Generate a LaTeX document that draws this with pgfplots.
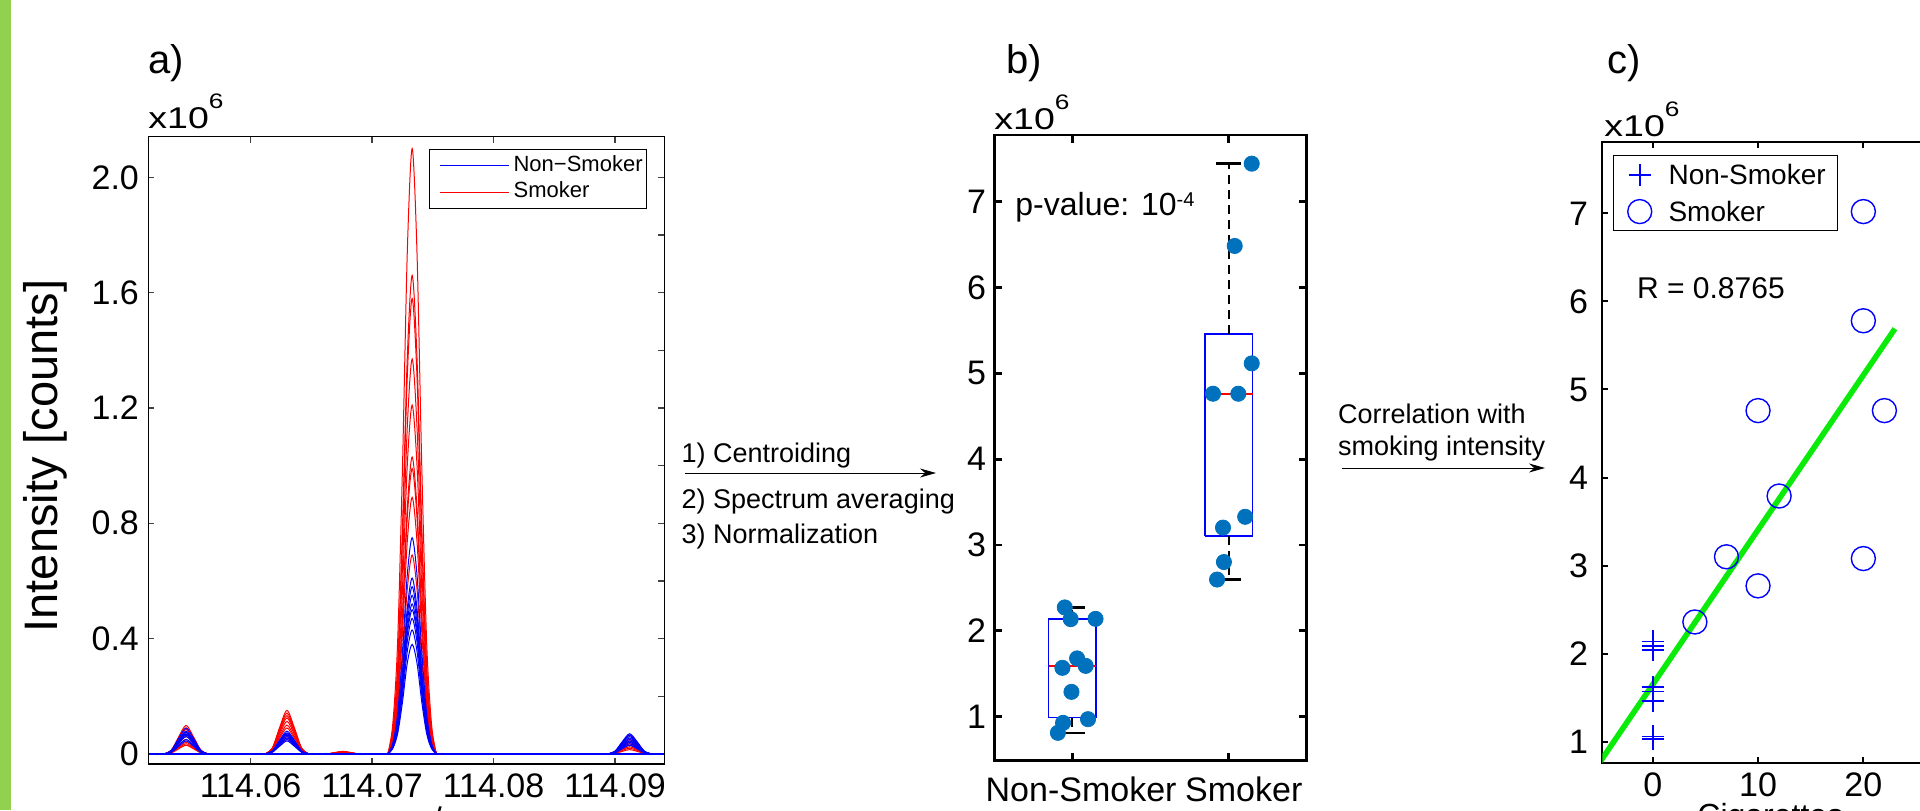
\documentclass[border=0pt]{standalone}
\usepackage{fontspec}
\setmainfont{Liberation Sans}
\usepackage{graphicx}
\usepackage{pgfplots}
\usepackage{pgfplotstable}
\pgfplotsset{compat=1.18}
\usetikzlibrary{arrows.meta}

\definecolor{stripgreen}{RGB}{146,208,80}
\definecolor{dotblue}{RGB}{0,114,189}
\definecolor{fitgreen}{RGB}{10,235,10}
\newcommand{\fsz}[2]{\fontsize{#1}{#2}\selectfont}
\newcommand{\xsix}{\scalebox{1.25}[1]{\fsz{15}{18}x10\raisebox{10pt}{\fsz{10.5}{12}6}}}

% panel a spectra: x = m/z - 114, intensity in 10^6 counts
% r1..r9 smokers, b1..b9 non-smokers
\pgfplotstableread{
x      r1    r2    r3    r4    r5    r6    r7    r8    r9    b1    b2    b3    b4    b5    b6    b7    b8    b9
0.0529 0     0     0     0     0     0     0     0     0     0     0     0     0     0     0     0     0     0
0.0535 0.014 0.004 0.012 0.006 0.011 0.008 0.007 0.013 0.005 0.013 0.011 0.010 0.009 0.008 0.007 0.006 0.011 0.010
0.0541 0.060 0.018 0.052 0.024 0.046 0.037 0.031 0.055 0.021 0.055 0.048 0.043 0.040 0.037 0.031 0.027 0.046 0.041
0.0547 0.099 0.030 0.085 0.040 0.075 0.060 0.050 0.090 0.035 0.090 0.079 0.070 0.065 0.060 0.050 0.045 0.075 0.068
0.0553 0.060 0.018 0.052 0.024 0.046 0.037 0.031 0.055 0.021 0.055 0.048 0.043 0.040 0.037 0.031 0.027 0.046 0.041
0.0559 0.014 0.004 0.012 0.006 0.011 0.008 0.007 0.013 0.005 0.013 0.011 0.010 0.009 0.008 0.007 0.006 0.011 0.010
0.0565 0     0     0     0     0     0     0     0     0     0     0     0     0     0     0     0     0     0
}\peakA

\pgfplotstableread{
x      r1    r2    r3    r4    r5    r6    r7    r8    r9    b1    b2    b3    b4    b5    b6    b7    b8    b9
0.0612 0     0     0     0     0     0     0     0     0     0     0     0     0     0     0     0     0     0
0.0618 0.021 0.020 0.019 0.018 0.016 0.014 0.008 0.007 0.013 0.011 0.010 0.009 0.008 0.008 0.007 0.010 0.009 0.006
0.0624 0.092 0.087 0.081 0.076 0.069 0.061 0.037 0.031 0.055 0.048 0.045 0.041 0.037 0.034 0.031 0.043 0.040 0.027
0.0630 0.151 0.142 0.133 0.125 0.113 0.100 0.060 0.050 0.090 0.079 0.073 0.067 0.060 0.055 0.050 0.070 0.065 0.045
0.0636 0.092 0.087 0.081 0.076 0.069 0.061 0.037 0.031 0.055 0.048 0.045 0.041 0.037 0.034 0.031 0.043 0.040 0.027
0.0642 0.021 0.020 0.019 0.018 0.016 0.014 0.008 0.007 0.013 0.011 0.010 0.009 0.008 0.008 0.007 0.010 0.009 0.006
0.0648 0     0     0     0     0     0     0     0     0     0     0     0     0     0     0     0     0     0
}\peakB

\pgfplotstableread{
x      r1    r2    r3    r4    r5    r6    r7    r8    r9
0.0664 0     0     0     0     0     0     0     0     0
0.0670 0.005 0.004 0.004 0.003 0.002 0.004 0.002 0.005 0.003
0.0676 0.009 0.007 0.006 0.005 0.004 0.006 0.003 0.008 0.005
0.0682 0.005 0.004 0.004 0.003 0.002 0.004 0.002 0.005 0.003
0.0688 0     0     0     0     0     0     0     0     0
}\peakC

\pgfplotstableread{
x      r1    r2    r3    r4    r5    r6    r7    r8    r9    b1    b2    b3    b4    b5    b6    b7    b8    b9
0.0713 0     0     0     0     0     0     0     0     0     0     0     0     0     0     0     0     0     0
0.0717 0.101 0.080 0.076 0.066 0.058 0.049 0.048 0.043 0.033 0.036 0.029 0.028 0.026 0.025 0.024 0.023 0.021 0.018
0.0721 0.382 0.302 0.288 0.249 0.220 0.187 0.180 0.162 0.126 0.137 0.111 0.106 0.100 0.095 0.091 0.086 0.078 0.069
0.0725 0.985 0.779 0.741 0.643 0.567 0.483 0.464 0.417 0.324 0.352 0.286 0.272 0.258 0.244 0.235 0.220 0.202 0.178
0.0729 1.739 1.374 1.308 1.134 1.002 0.853 0.820 0.737 0.571 0.621 0.505 0.480 0.455 0.431 0.414 0.389 0.356 0.315
0.0733 2.100 1.660 1.580 1.370 1.210 1.030 0.990 0.890 0.690 0.750 0.610 0.580 0.550 0.520 0.500 0.470 0.430 0.380
0.0737 1.739 1.374 1.308 1.134 1.002 0.853 0.820 0.737 0.571 0.621 0.505 0.480 0.455 0.431 0.414 0.389 0.356 0.315
0.0741 0.985 0.779 0.741 0.643 0.567 0.483 0.464 0.417 0.324 0.352 0.286 0.272 0.258 0.244 0.235 0.220 0.202 0.178
0.0745 0.382 0.302 0.288 0.249 0.220 0.187 0.180 0.162 0.126 0.137 0.111 0.106 0.100 0.095 0.091 0.086 0.078 0.069
0.0749 0.101 0.080 0.076 0.066 0.058 0.049 0.048 0.043 0.033 0.036 0.029 0.028 0.026 0.025 0.024 0.023 0.021 0.018
0.0753 0     0     0     0     0     0     0     0     0     0     0     0     0     0     0     0     0     0
}\peakD

\pgfplotstableread{
x      r1    r2    r3    r4    r5    r6    r7    r8    r9    b1    b2    b3    b4    b5    b6    b7    b8    b9
0.0894 0     0     0     0     0     0     0     0     0     0     0     0     0     0     0     0     0     0
0.0900 0.009 0.007 0.006 0.004 0.004 0.003 0.002 0.006 0.005 0.010 0.009 0.008 0.008 0.007 0.006 0.006 0.005 0.004
0.0906 0.040 0.031 0.024 0.018 0.015 0.012 0.009 0.027 0.021 0.043 0.040 0.037 0.034 0.031 0.027 0.024 0.021 0.018
0.0912 0.065 0.050 0.040 0.030 0.025 0.020 0.015 0.045 0.035 0.070 0.065 0.060 0.055 0.050 0.045 0.040 0.035 0.030
0.0918 0.040 0.031 0.024 0.018 0.015 0.012 0.009 0.027 0.021 0.043 0.040 0.037 0.034 0.031 0.027 0.024 0.021 0.018
0.0924 0.009 0.007 0.006 0.004 0.004 0.003 0.002 0.006 0.005 0.010 0.009 0.008 0.008 0.007 0.006 0.006 0.005 0.004
0.0930 0     0     0     0     0     0     0     0     0     0     0     0     0     0     0     0     0     0
}\peakE

\begin{document}
\begin{tikzpicture}
\useasboundingbox (0pt,0pt) rectangle (960pt,405pt);
\clip (0pt,0pt) rectangle (960pt,405pt);
\fill[stripgreen] (0pt,0pt) rectangle (5.5pt,405pt);

% ---------------- a) spectra
\begin{axis}[
  at={(74.15pt,23pt)}, anchor=south west, scale only axis,
  width=258pt, height=313.65pt,
  xmin=0.05159, xmax=0.09405, ymin=-0.035, ymax=2.141,
  xtick={0.06,0.07,0.08,0.09}, xticklabels={114.06,114.07,114.08,114.09},
  ytick={0,0.4,0.8,1.2,1.6,2.0}, yticklabels={0,0.4,0.8,1.2,1.6,2.0},
  xtick pos=both, ytick pos=left, tick align=inside, major tick length=3pt,
  axis line style={line width=0.6pt},
  tick style={black!75, line width=0.6pt},
  tick label style={font=\fsz{17}{20}, inner sep=0pt},
  xticklabel style={yshift=-4.5pt}, yticklabel style={xshift=-4.5pt},
  legend image code/.code={\path (0pt,0pt); \draw[#1] (5.15pt,0pt) -- (39.45pt,0pt);},
  legend cell align=left,
  legend style={at={(axis description cs:0.5438,0.9809)}, anchor=north west,
    draw=black, line width=0.6pt, fill=white, inner xsep=0pt, inner ysep=1.4pt,
    font=\fsz{11}{13},
    nodes={inner sep=2pt, text height=7.5pt, text depth=1.85pt}},
]
\pgfplotsinvokeforeach{1,...,9}{
  \addplot[red, line width=0.5pt, smooth, forget plot] table[x=x, y=r#1] {\peakA};
  \addplot[red, line width=0.5pt, smooth, forget plot] table[x=x, y=r#1] {\peakB};
  \addplot[red, line width=0.5pt, smooth, forget plot] table[x=x, y=r#1] {\peakC};
  \addplot[red, line width=0.5pt, smooth, forget plot] table[x=x, y=r#1] {\peakD};
  \addplot[red, line width=0.5pt, smooth, forget plot] table[x=x, y=r#1] {\peakE};
}
\pgfplotsinvokeforeach{1,...,9}{
  \addplot[blue, line width=0.5pt, smooth, forget plot] table[x=x, y=b#1] {\peakA};
  \addplot[blue, line width=0.5pt, smooth, forget plot] table[x=x, y=b#1] {\peakB};
  \addplot[blue, line width=0.5pt, smooth, forget plot] table[x=x, y=b#1] {\peakD};
  \addplot[blue, line width=0.5pt, smooth, forget plot] table[x=x, y=b#1] {\peakE};
}
\addplot[blue, line width=0.9pt, forget plot] coordinates {(0.05159,0) (0.09405,0)};
\addlegendimage{blue, line width=0.6pt}
\addlegendentry{Non−Smoker}
\addlegendimage{red, line width=0.6pt}
\addlegendentry{Smoker}
\end{axis}
% right-hand ticks of panel a (finer step, no labels)
\begin{axis}[
  at={(74.15pt,23pt)}, anchor=south west, scale only axis,
  width=258pt, height=313.65pt,
  xmin=0.05159, xmax=0.09405, ymin=-0.035, ymax=2.141,
  hide x axis, ytick={0.2,0.4,...,2.0},
  yticklabel style={text opacity=0, opacity=0},
  ytick pos=right, tick align=inside, major tick length=3pt,
  axis line style={line width=0.6pt},
  tick style={black!75, line width=0.6pt},
]
\end{axis}

% ---------------- b) boxplot
\begin{axis}[
  at={(497.15pt,24.65pt)}, anchor=south west, scale only axis,
  width=156.2pt, height=312.85pt,
  xmin=0.5, xmax=2.5, ymin=0.487, ymax=7.778,
  xtick={1,2}, xticklabels={Non-Smoker,\hspace*{6.5pt}Smoker},
  ytick={1,2,3,4,5,6,7}, yticklabels={1,2,3,4,5,6,7},
  xtick pos=both, ytick pos=both, tick align=inside, major tick length=4pt,
  axis line style={line width=1.4pt},
  tick style={black, line width=1.4pt},
  tick label style={font=\fsz{17}{20}, inner sep=0pt},
  xticklabel style={yshift=-8pt, xshift=4.35pt}, yticklabel style={xshift=-4pt},
]
% non-smoker box
\addplot[blue, line width=0.8pt] coordinates {(0.848,0.99) (1.152,0.99) (1.152,2.14) (0.848,2.14) (0.848,0.99)};
\addplot[black, line width=1pt, dash pattern=on 4.5pt off 3pt] coordinates {(1,2.14) (1,2.27)};
\addplot[black, line width=1pt, dash pattern=on 4.5pt off 3pt] coordinates {(1,0.99) (1,0.81)};
\addplot[black, line width=1.3pt] coordinates {(0.92,2.27) (1.08,2.27)};
\addplot[black, line width=1.3pt] coordinates {(0.92,0.81) (1.08,0.81)};
\addplot[red, line width=1.2pt] coordinates {(0.848,1.59) (1.152,1.59)};
% smoker box
\addplot[blue, line width=0.8pt] coordinates {(1.847,3.107) (2.153,3.107) (2.153,5.46) (1.847,5.46) (1.847,3.107)};
\addplot[black, line width=1pt, dash pattern=on 4.5pt off 3pt] coordinates {(2,5.46) (2,7.444)};
\addplot[black, line width=1pt, dash pattern=on 4.5pt off 3pt] coordinates {(2,3.107) (2,2.598)};
\addplot[black, line width=1.3pt] coordinates {(1.92,7.444) (2.08,7.444)};
\addplot[black, line width=1.3pt] coordinates {(1.92,2.598) (2.08,2.598)};
\addplot[red, line width=1.2pt] coordinates {(1.847,4.757) (2.153,4.757)};
% jittered samples
\addplot[only marks, mark=*, mark size=3.8pt, dotblue, mark options={draw=none}] coordinates {
  (0.951,2.273) (0.989,2.137) (1.148,2.140) (1.030,1.679) (0.936,1.569)
  (1.085,1.592) (0.994,1.289) (1.100,0.971) (0.940,0.928) (0.907,0.812)};
\addplot[only marks, mark=*, mark size=3.8pt, dotblue, mark options={draw=none}] coordinates {
  (2.148,7.444) (2.039,6.485) (2.148,5.117) (1.900,4.763) (2.062,4.763)
  (2.106,3.329) (1.964,3.203) (1.970,2.802) (1.926,2.598)};
\end{axis}

% ---------------- c) correlation
\begin{axis}[
  at={(801.15pt,23.65pt)}, anchor=south west, scale only axis,
  width=162.1pt, height=310.35pt,
  xmin=-4.79, xmax=26, ymin=0.762, ymax=7.81,
  xtick={0,10,20}, xticklabels={0,10,20},
  ytick={1,2,3,4,5,6,7}, yticklabels={1,2,3,4,5,6,7},
  xtick pos=both, ytick pos=both, tick align=inside, major tick length=3pt,
  axis line style={line width=1pt},
  tick style={black, line width=1pt},
  tick label style={font=\fsz{17}{20}, inner sep=0pt},
  xticklabel style={yshift=-5pt}, yticklabel style={xshift=-7pt},
  legend image code/.code={\path (0pt,0pt) (20.85pt,0pt); \draw[#1] plot coordinates {(8.7pt,0pt)};},
  legend cell align=left,
  legend style={at={(axis description cs:0.034,0.979)}, anchor=north west,
    draw=black, line width=0.5pt, fill=white, inner xsep=4pt, inner ysep=0.5pt,
    font=\fsz{14}{16},
    nodes={inner sep=2pt, text height=12pt, text depth=2.35pt}},
]
\addplot[only marks, mark=+, mark size=5.5pt, blue, mark options={line width=0.8pt}] coordinates {
  (0,2.14) (0,2.09) (0,2.04) (0,1.62) (0,1.57) (0,1.46) (0,1.06) (0,1.03)};
\addlegendentry{Non-Smoker}
\addplot[only marks, mark=o, mark size=6pt, blue, mark options={line width=0.7pt}] coordinates {
  (4,2.36) (7,3.10) (10,2.77) (10,4.76) (12,3.79) (20,3.08) (20,5.78) (20,7.02) (22,4.76)};
\addlegendentry{Smoker}
\addplot[fitgreen, line width=2.8pt, forget plot] coordinates {(-5.5,0.685) (23,5.69)};
\end{axis}

% ---------------- texts and arrows
\node[anchor=base west, inner sep=0pt, font=\fsz{20}{23}] at (74pt,368pt) {a)};
\node[anchor=base west, inner sep=0pt, font=\fsz{20}{23}] at (503pt,368pt) {b)};
\node[anchor=base west, inner sep=0pt, font=\fsz{20}{23}] at (803.5pt,368pt) {c)};
\node[anchor=base west, inner sep=0pt] at (74pt,340.5pt) {\xsix};
\node[anchor=base west, inner sep=0pt] at (497pt,340pt) {\xsix};
\node[anchor=base west, inner sep=0pt] at (802pt,336.65pt) {\xsix};
\node[rotate=90, font=\fsz{23.5}{26}] at (22.5pt,177pt) {Intensity [counts]};
\node[anchor=base west, inner sep=0pt, font=\fsz{16}{19}] at (507.5pt,297.5pt) {p-value: 10\raisebox{4.5pt}{\fsz{10}{12}-4}};
\node[anchor=base west, inner sep=0pt, font=\fsz{15}{18}] at (818.35pt,255.85pt) {R = 0.8765};

\begin{scope}[font=\fsz{13.5}{16}]
\node[anchor=base west, inner sep=0pt] at (340.65pt,174pt) {1) Centroiding};
\node[anchor=base west, inner sep=0pt] at (340.65pt,151pt) {2) Spectrum averaging};
\node[anchor=base west, inner sep=0pt] at (340.65pt,133.5pt) {3) Normalization};
\node[anchor=base west, inner sep=0pt] at (668.8pt,193.5pt) {Correlation with};
\node[anchor=base west, inner sep=0pt] at (668.8pt,177.5pt) {smoking intensity};
\end{scope}
\draw[-{Stealth[length=8pt,width=4.5pt]}, line width=0.5pt] (342.5pt,168.5pt) -- (468pt,168.5pt);
\draw[-{Stealth[length=8pt,width=4.5pt]}, line width=0.5pt] (670.75pt,171pt) -- (772.5pt,171pt);

% axis labels cut by the lower edge
\node[anchor=base, inner sep=0pt, font=\fsz{17}{20}] at (215.7pt,-10.5pt) {m/z};
\node[anchor=base west, inner sep=0pt, font=\fsz{16}{19}] at (848.5pt,-8pt) {Cigarettes};
\end{tikzpicture}
\end{document}
